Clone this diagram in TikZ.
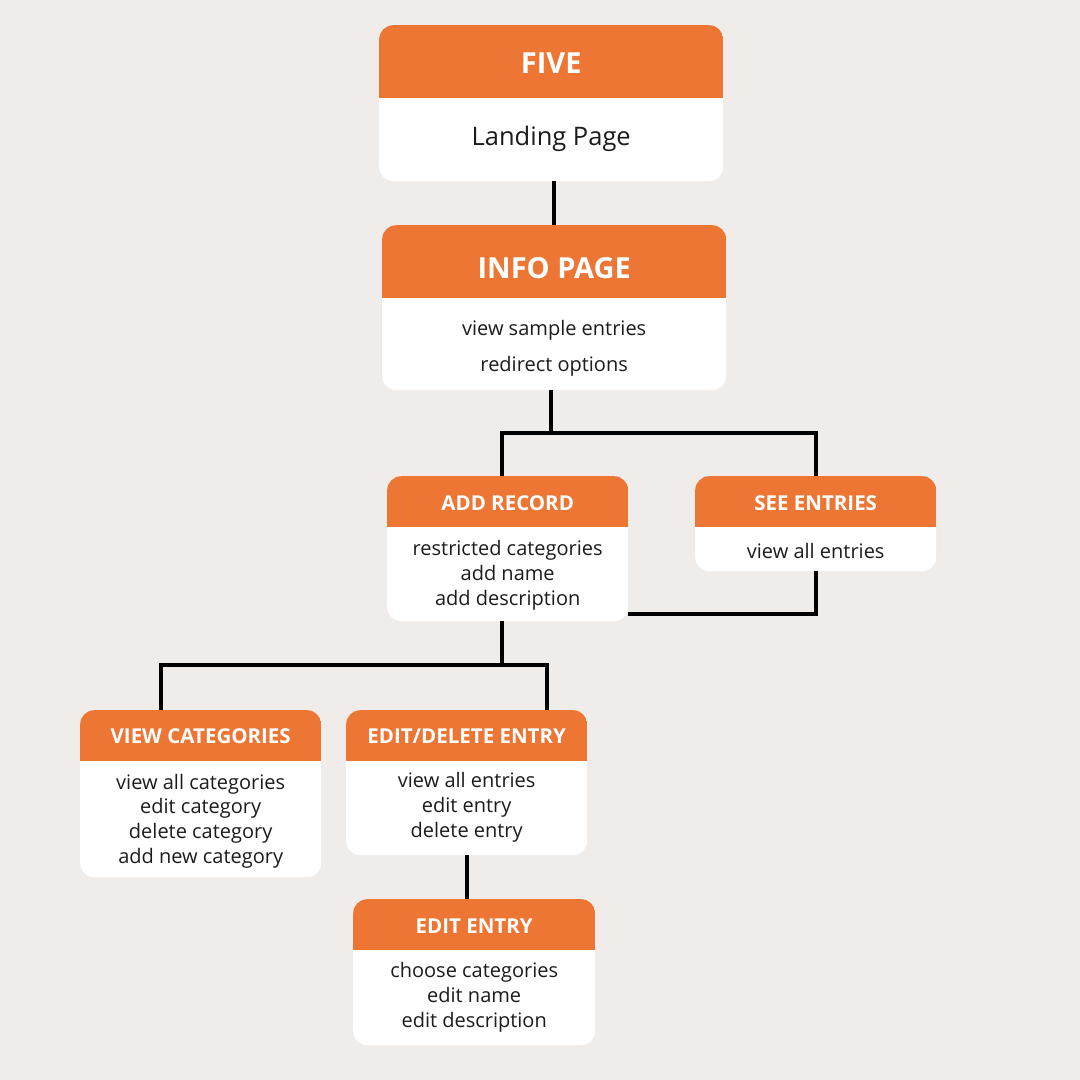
\documentclass[tikz,border=0pt]{standalone}
\usepackage{fontspec}
\setmainfont{Open Sans}
\usetikzlibrary{positioning}
\definecolor{pagebg}{RGB}{240,236,234}
\definecolor{cardorange}{RGB}{237,118,52}
\definecolor{cardtext}{RGB}{28,28,28}
\tikzset{
  card/.style={fill=white, rounded corners=14pt, anchor=north west, inner sep=0pt,
    path picture={\fill[cardorange, sharp corners] (path picture bounding box.north west)
      rectangle ([yshift=-#1]path picture bounding box.north east);}},
  bigtitle/.style={text=white, font=\fontsize{29}{34}\selectfont\bfseries, inner sep=0pt},
  boxtitle/.style={text=white, font=\fontsize{20.5}{24}\selectfont\bfseries, inner sep=0pt},
  items/.style={text=cardtext, align=center, inner sep=0pt, font=\fontsize{20}{24.8}\selectfont},
  link/.style={draw=black, line width=4pt},
}
\begin{document}
\begin{tikzpicture}[x=1pt, y=-1pt]
  \fill[pagebg] (0,0) rectangle (1080,1080);
  \useasboundingbox (0,0) rectangle (1080,1080);

  % cards
  \node[card=73pt, minimum width=344pt, minimum height=156pt] (five) at (379,25) {};
  \node[card=73pt, minimum width=344pt, minimum height=165pt] (info) at (382,225) {};
  \node[card=51pt, minimum width=241pt, minimum height=145pt] (add) at (387,476) {};
  \node[card=51pt, minimum width=241pt, minimum height=95pt] (see) at (695,476) {};
  \node[card=51pt, minimum width=241pt, minimum height=167pt] (viewcat) at (80,710) {};
  \node[card=51pt, minimum width=241pt, minimum height=145pt] (editdel) at (346,710) {};
  \node[card=51pt, minimum width=242pt, minimum height=146pt] (edit) at (353,899) {};

  % titles and contents
  \node[bigtitle] (fiveT) at ([yshift=-38pt]five.north) {FIVE};
  \node[items, font=\fontsize{25.5}{30}\selectfont] (fiveB) at ([yshift=-114pt]five.north) {Landing Page};
  \node[bigtitle] (infoT) at ([yshift=-43pt]info.north) {INFO PAGE};
  \node[items, font=\fontsize{20}{36}\selectfont] (infoB) at ([yshift=-123pt]info.north) {view sample entries\\redirect options};
  \node[boxtitle] (addT) at ([yshift=-27pt]add.north) {ADD RECORD};
  \node[items] (addB) at ([yshift=-99pt]add.north) {restricted categories\\add name\\add description};
  \node[boxtitle] (seeT) at ([yshift=-27pt]see.north) {SEE ENTRIES};
  \node[items] (seeB) at ([yshift=-75pt]see.north) {view all entries};
  \node[boxtitle] (viewcatT) at ([yshift=-26pt]viewcat.north) {VIEW CATEGORIES};
  \node[items] (viewcatB) at ([yshift=-111pt]viewcat.north) {view all categories\\edit category\\delete category\\add new category};
  \node[boxtitle] (editdelT) at ([yshift=-26pt]editdel.north) {EDIT/DELETE ENTRY};
  \node[items] (editdelB) at ([yshift=-97pt]editdel.north) {view all entries\\edit entry\\delete entry};
  \node[boxtitle] (editT) at ([yshift=-27pt]edit.north) {EDIT ENTRY};
  \node[items] (editB) at ([yshift=-98pt]edit.north) {choose categories\\edit name\\edit description};

  % connectors
  \coordinate (infoJ) at (551,433);
  \coordinate (addJ) at (502,665);
  \draw[link] (five.south -| info.north) -- (info.north);
  \draw[link] (infoJ |- info.south) -- (infoJ);
  \draw[link] ([xshift=-6pt]add.north) |- (infoJ) -| (see.north);
  \draw[link] (see.south) |- ([yshift=7pt]add.south east);
  \draw[link] ([xshift=-6pt]add.south) -- ([xshift=-6pt]add.south |- addJ);
  \draw[link] ([xshift=-40pt]viewcat.north) |- (addJ) -| ([xshift=80pt]editdel.north);
  \draw[link] (editdel.south) -- (editdel.south |- edit.north);
\end{tikzpicture}
\end{document}
